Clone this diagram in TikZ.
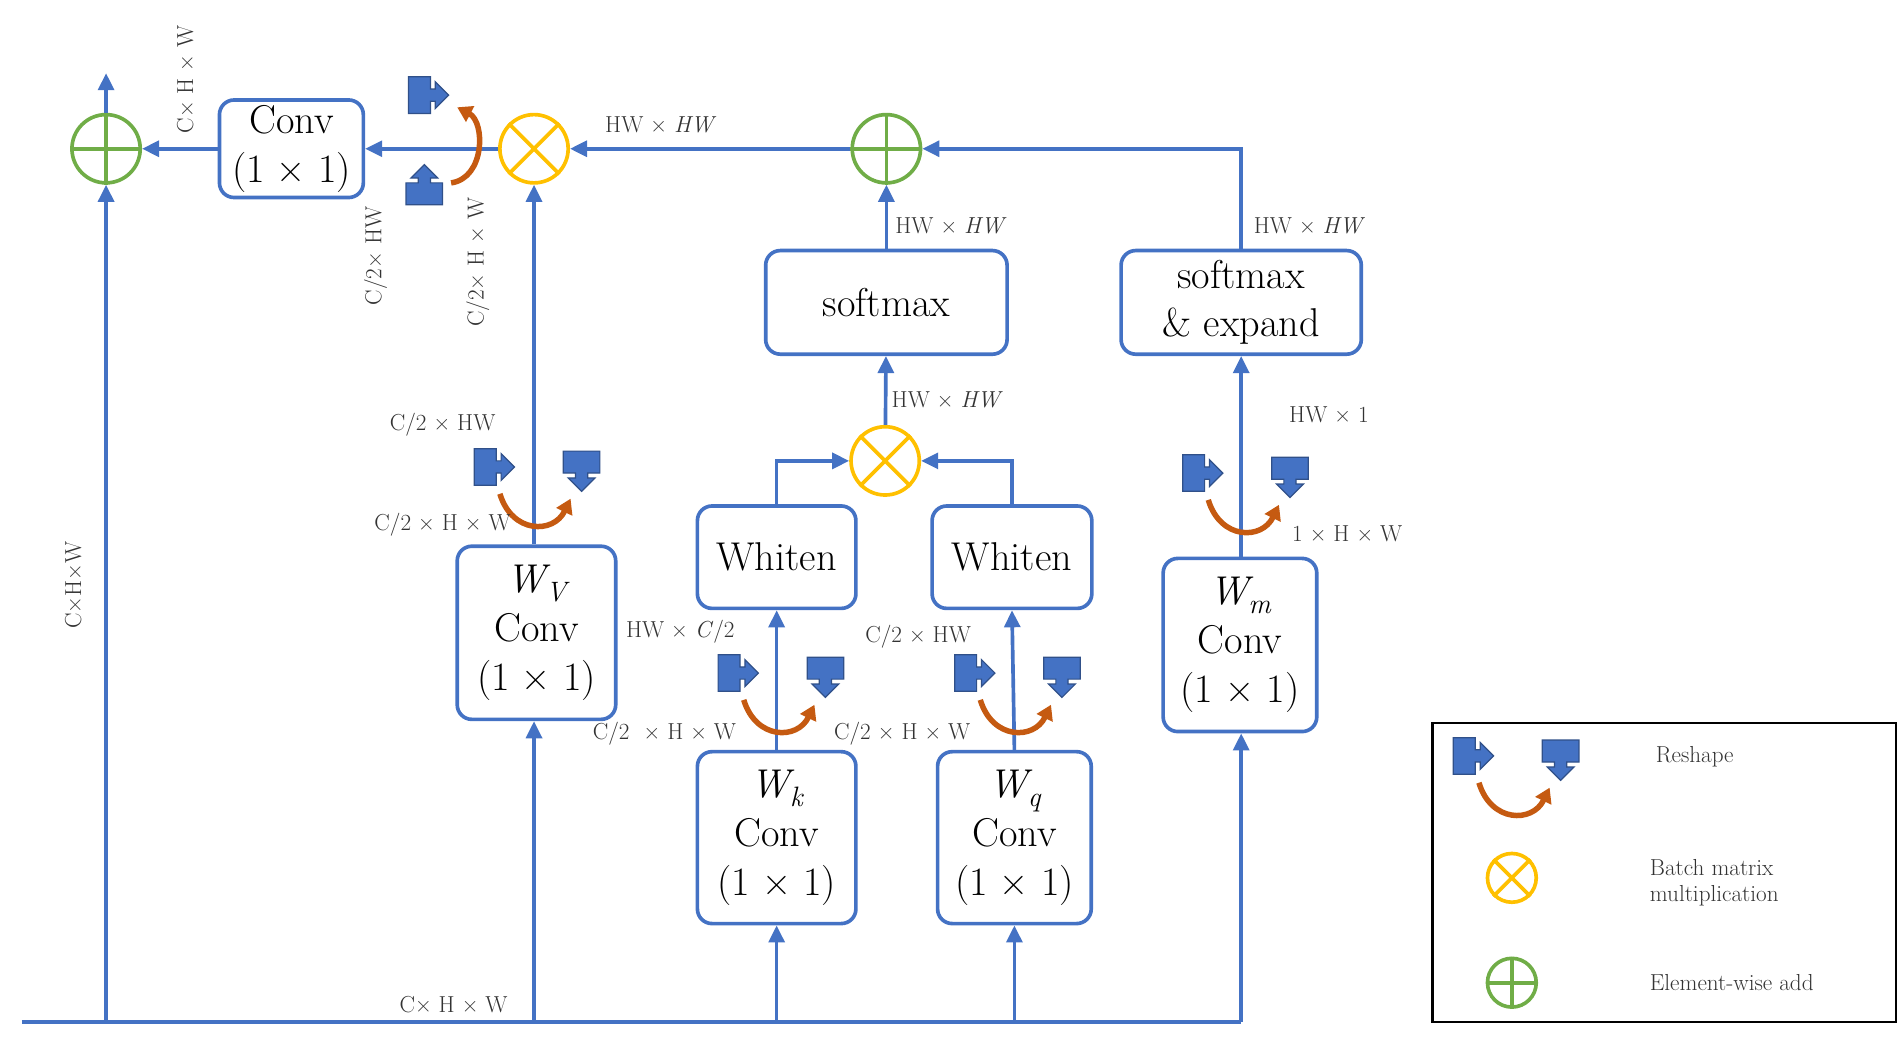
\documentclass[tikz,border=0pt]{standalone}
\usepackage{fontspec}
\usetikzlibrary{arrows.meta,calc}
\definecolor{bl}{HTML}{4472C4}
\definecolor{ylw}{HTML}{FFC000}
\definecolor{grn}{HTML}{70AD47}
\definecolor{org}{HTML}{C55A11}
\definecolor{icon}{HTML}{4472C4}
\newcommand{\Wsub}[1]{{\itshape W}\raisebox{-0.22em}{\fontsize{23}{24}\selectfont\itshape #1}}
\tikzset{
 ln/.style={bl,line width=3pt},
 ar/.style={ln,-{Triangle[length=14pt,width=13pt]}},
 box/.style={draw=bl,line width=3pt,rounded corners=12pt,align=center,font=\fontsize{33}{40}\selectfont,inner sep=0pt},
 lab/.style={font=\fontsize{19}{22}\selectfont,inner sep=1pt,text=black!80},
 mul/.style={circle,draw=ylw,line width=3pt,minimum size=56pt,inner sep=0pt},
 add/.style={circle,draw=grn,line width=3pt,minimum size=56pt,inner sep=0pt},
 pics/rsh/.style={code={\fill[icon,draw=icon!70!black,line width=1pt] (-13,-15)--(5,-15)--(5,-5)--(9,-5)--(9,-11)--(20,0)--(9,11)--(9,5)--(5,5)--(5,15)--(-13,15)--cycle;}},
 crv/.style={org,line width=4.5pt,-{Triangle[length=12pt,width=14pt]}},
}
\newcommand{\mcross}[1]{\draw[ylw,line width=3pt] (#1.45)--(#1.225) (#1.135)--(#1.315);}
\newcommand{\aplus}[1]{\draw[grn,line width=3pt] (#1.north)--(#1.south) (#1.east)--(#1.west);}
\begin{document}
\begin{tikzpicture}[x=1pt,y=-1pt]
\useasboundingbox (0,0) rectangle (1560,857);
% nodes
\node[add] (a1) at (87,122) {};
\node[box,minimum width=118pt,minimum height=80pt] (conv) at (239,122) {Conv\\(1 × 1)};
\node[mul] (m1) at (438,122) {};
\node[add] (a2) at (727,122) {};
\node[box,minimum width=198pt,minimum height=85pt] (sm) at (727,248) {softmax};
\node[box,minimum width=197pt,minimum height=85pt] (sme) at (1018,248) {softmax\\\& expand};
\node[mul] (m2) at (726,378) {};
\node[box,minimum width=130pt,minimum height=84pt] (wh1) at (637,457) {Whiten};
\node[box,minimum width=131pt,minimum height=84pt] (wh2) at (830,457) {Whiten};
\node[box,minimum width=130pt,minimum height=142pt] (wv) at (440,519) {\Wsub{V}\\Conv\\(1 × 1)};
\node[box,minimum width=130pt,minimum height=141pt] (wk) at (637,687) {\Wsub{k}\\Conv\\(1 × 1)};
\node[box,minimum width=126pt,minimum height=141pt] (wq) at (832,687) {\Wsub{q}\\Conv\\(1 × 1)};
\node[box,minimum width=126pt,minimum height=142pt] (wm) at (1017,529) {\Wsub{m}\\Conv\\(1 × 1)};
\mcross{m1}\mcross{m2}\aplus{a1}\aplus{a2}
\coordinate (bl) at (18,838); \coordinate (br) at (1018,838);
\coordinate (top) at (87,60);
% bottom trunk
\draw[ln] (bl)--(br);
\draw[ar] (87,838)--(a1);
\draw[ar] (a1)--(top);
\draw[ar] (438,838)--(wv.south -| 438,0);
\draw[ar] (637,838)--(wk);
\draw[ar] (832,838)--(wq);
\draw[ar] (br)--(wm.south -| 1018,0);
% flows
\draw[ar] (wv.north -| 438,0)--(m1);
\draw[ar] (m1)--(conv);
\draw[ar] (conv)--(a1);
\draw[ar] (a2)--(m1);
\draw[ar] (sm)--(a2);
\draw[ar] (sme.north)--(1018,122)--(a2);
\draw[ar] (m2)--(sm);
\draw[ar] (wh1.north)--(637,378)--(m2);
\draw[ar] (wh2.north)--(830,378)--(m2);
\draw[ar] (wk)--(wh1);
\draw[ar] (wq.north -| 832,0)--(wh2.south -| 830,0);
\draw[ar] (wm.north -| 1018,0)--(sme.south -| 1018,0);
% reshape icons
\pic at (348,78) {rsh};
\pic[rotate=90] at (348,155) {rsh};
\draw[crv] (370,150) .. controls (398,146) and (398,100) .. (375,88);
\foreach \x/\y in {402/383,602/552,796/552,983/388,1205/620}{
 \pic at (\x,\y) {rsh};
 \pic[rotate=-90] at (\x+75,\y) {rsh};
 \draw[crv] (\x+8,\y+22) .. controls (\x+18,\y+55) and (\x+52,\y+55) .. (\x+66,\y+26);
}
% labels
\node[lab,rotate=90] at (60,480) {C×H×W};
\node[lab,rotate=90] at (152,65) {C× H × W};
\node[lab,rotate=90] at (308,210) {C/2× HW};
\node[lab,rotate=90] at (392,215) {C/2× H × W};
\node[lab] at (542,102) {HW × \textit{HW}};
\node[lab] at (780,185) {HW × \textit{HW}};
\node[lab] at (1074,185) {HW × \textit{HW}};
\node[lab] at (777,328) {HW × \textit{HW}};
\node[lab] at (363,348) {C/2 × HW};
\node[lab] at (363,430) {C/2 × H × W};
\node[lab] at (558,518) {HW × \textit{C}/2};
\node[lab] at (545,602) {C/2\ \ × H × W};
\node[lab] at (753,522) {C/2 × HW};
\node[lab] at (740,602) {C/2 × H × W};
\node[lab] at (1090,340) {HW × 1};
\node[lab] at (1105,438) {1 × H × W};
\node[lab] at (372,824) {C× H × W};
% legend
\node[draw=black,line width=2pt,minimum width=380pt,minimum height=245pt,inner sep=0pt] (leg) at (1365,715.5) {};
\node[lab] at (1390,621) {Reshape};
\node[mul,minimum size=40pt] (lm) at (1240,720) {}; \mcross{lm}
\node[add,minimum size=40pt] (la) at (1240,806) {}; \aplus{la}
\node[lab,align=left,anchor=west] at (1352,724) {Batch matrix\\multiplication};
\node[lab,anchor=west] at (1352,806) {Element-wise add};
\end{tikzpicture}
\end{document}
